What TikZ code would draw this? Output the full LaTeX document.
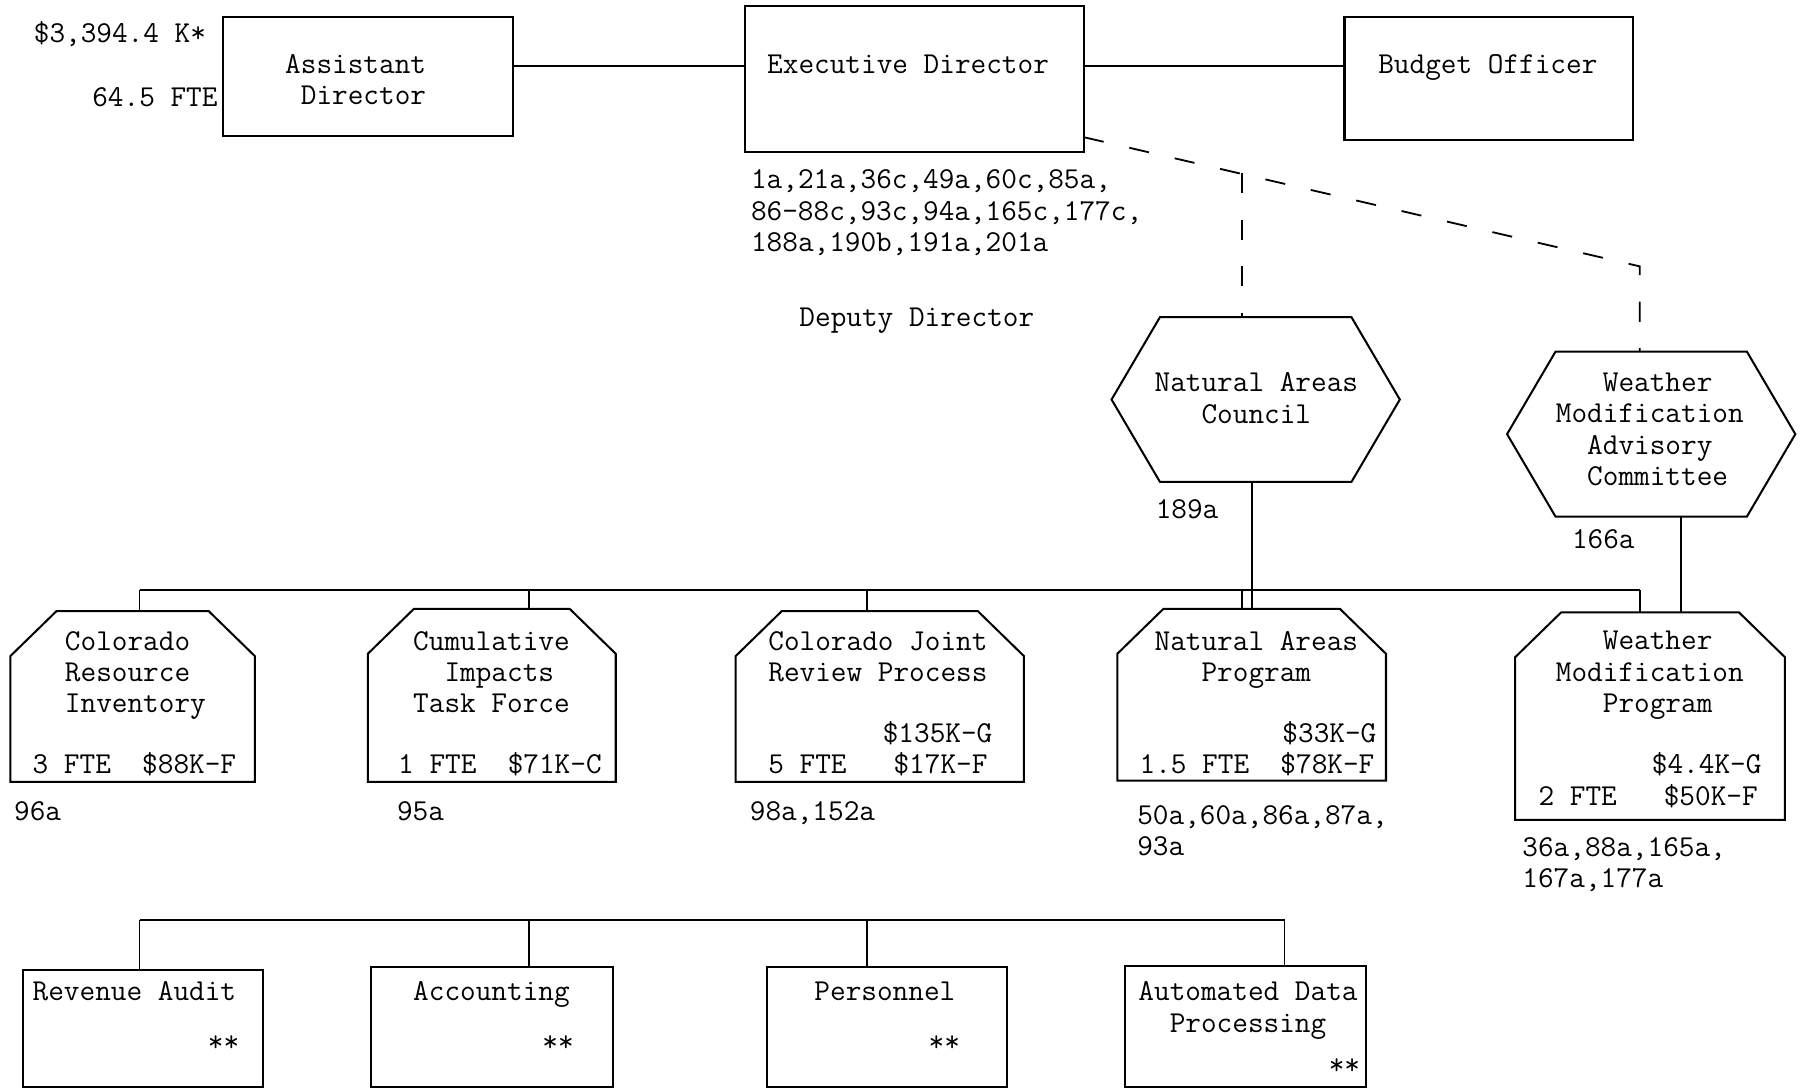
\documentclass[tikz,border=0pt]{standalone}
\usetikzlibrary{fit}

\begin{document}
\begin{tikzpicture}[x=0.02cm, y=-0.02cm,
    font=\fontsize{15}{15.5}\selectfont\ttfamily,
    box/.style={draw, line width=1pt, inner sep=0pt, outer sep=0pt},
    frame/.style={inner sep=0pt, outer sep=0pt},
    outl/.style={line width=1pt},
    txt/.style={inner sep=0pt, align=left, anchor=north west},
    lbl/.style={inner sep=0pt, anchor=base west},
    conn/.style={line width=0.9pt},
    dline/.style={line width=0.9pt, dash pattern=on 10pt off 13pt}]
  \useasboundingbox (0,0) rectangle (1568,945);

  % top row
  \node[box, fit={(193,15) (445,118)}] (ad) {};
  \node[box, fit={(646,5) (940,132)}] (ed) {};
  \node[box, fit={(1166,15) (1416,121)}] (bo) {};
  \node[lbl, anchor=base east] (adbudget) at (179,37) {\$3,394.4 K*};
  \node[lbl, anchor=base east] (adfte) at (189,92) {64.5 FTE};
  \node[txt] (adtxt) at (247,47) {Assistant\\\hphantom{x}Director};
  \node[txt] (edtxt) at (665,47) {Executive Director};
  \node[txt] (botxt) at (1195,47) {Budget Officer};
  \node[txt] (edrefs) at (651,147) {1a,21a,36c,49a,60c,85a,\\86-88c,93c,94a,165c,177c,\\188a,190b,191a,201a};
  \node[lbl] (deputy) at (693,283) {Deputy Director};

  % councils
  \node[frame, fit={(964,275) (1214,418)}] (nac) {};
  \node[frame, fit={(1307,305) (1557,448)}] (wmac) {};
  \node[txt] (nactxt) at (1001,323) {Natural Areas\\\hphantom{xxx}Council};
  \node[txt] (wmactxt) at (1349,323) {\hphantom{xxx}Weather\\Modification\\\hphantom{xx}Advisory\\\hphantom{xx}Committee};
  \node[lbl] (nacref) at (1002,450) {189a};
  \node[lbl] (wmacref) at (1363,476) {166a};

  % programs
  \node[frame, fit={(9,530) (221,678)}] (cri) {};
  \node[frame, fit={(319,528) (534,678)}] (cit) {};
  \node[frame, fit={(638,530) (888,678)}] (cjrp) {};
  \node[frame, fit={(969,528) (1202,677)}] (nap) {};
  \node[frame, fit={(1314,531) (1548,711)}] (wmp) {};
  \node[txt] (critxt) at (56,547) {Colorado\\Resource\\Inventory};
  \node[lbl] (crifig) at (28,671) {3 FTE\ \ \$88K-F};
  \node[lbl] (criref) at (12,712) {96a};
  \node[txt] (cittxt) at (358,547) {Cumulative\\\hphantom{xx}Impacts\\Task Force};
  \node[lbl] (citfig) at (345,671) {1 FTE\ \ \$71K-C};
  \node[lbl] (citref) at (344,712) {95a};
  \node[txt] (cjrptxt) at (666,547) {Colorado Joint\\Review Process};
  \node[lbl, anchor=base east] (cjrpgen) at (861,644) {\$135K-G};
  \node[lbl] (cjrpfig) at (666,671) {5 FTE\ \ \ \$17K-F};
  \node[lbl] (cjrpref) at (650,712) {98a,152a};
  \node[txt] (naptxt) at (1001,547) {Natural Areas\\\hphantom{xxx}Program};
  \node[lbl, anchor=base east] (napgen) at (1194,644) {\$33K-G};
  \node[lbl] (napfig) at (988,671) {1.5 FTE\ \ \$78K-F};
  \node[txt] (napref) at (986,698) {50a,60a,86a,87a,\\93a};
  \node[txt] (wmptxt) at (1349,547) {\hphantom{xxx}Weather\\Modification\\\hphantom{xxx}Program};
  \node[lbl, anchor=base east] (wmpgen) at (1528,671) {\$4.4K-G};
  \node[lbl] (wmpfig) at (1334,699) {2 FTE\ \ \ \$50K-F};
  \node[txt] (wmpref) at (1320,726) {36a,88a,165a,\\167a,177a};

  % staff units
  \node[box, fit={(20,841) (228,943)}] (ra) {};
  \node[box, fit={(322,839) (532,943)}] (acc) {};
  \node[box, fit={(665,839) (873,943)}] (per) {};
  \node[box, fit={(976,838) (1185,943)}] (adp) {};
  \node[txt] (ratxt) at (28,851) {Revenue Audit};
  \node[lbl] (rastar) at (180,912) {**};
  \node[txt] (acctxt) at (358,851) {Accounting};
  \node[lbl] (accstar) at (470,912) {**};
  \node[txt] (pertxt) at (706,851) {Personnel};
  \node[lbl] (perstar) at (805,912) {**};
  \node[txt] (adptxt) at (987,851) {Automated Data\\\hphantom{xx}Processing};
  \node[lbl] (adpstar) at (1152,932) {**};

  % outlines
  \foreach \n in {cri,cit,cjrp,nap,wmp}
    \draw[outl] (\n.south west) -- ([yshift=-0.78cm]\n.north west) -- ([xshift=0.8cm]\n.north west)
      -- ([xshift=-0.8cm]\n.north east) -- ([yshift=-0.78cm]\n.north east) -- (\n.south east) -- cycle;
  \foreach \n in {nac,wmac}
    \draw[outl] (\n.west) -- ([xshift=0.84cm]\n.north west) -- ([xshift=-0.84cm]\n.north east)
      -- (\n.east) -- ([xshift=-0.84cm]\n.south east) -- ([xshift=0.84cm]\n.south west) -- cycle;

  % connectors
  \coordinate (topline) at (0,57);
  \draw[conn] (ad.east |- topline) -- (ed.west |- topline);
  \draw[conn] (ed.east |- topline) -- (bo.west |- topline);

  \coordinate (dstart) at (ed.east |- 0,119);
  \coordinate (nacjoin) at (1077,150);
  \coordinate (advjoin) at (1422,231);
  \draw[dline] (dstart) -- (advjoin) -- (advjoin |- wmac.north);
  \draw[dline] (nacjoin) -- (nacjoin |- nac.north);

  \draw[conn] (nap.north |- nac.south) -- (nap.north);
  \draw[conn] (1458,0 |- wmac.south) -- (1458,0 |- wmp.north);

  \coordinate (progbus) at (0,512);
  \draw[conn] (121,0 |- progbus) -- (1422,0 |- progbus);
  \foreach \x/\n in {121/cri,459/cit,752/cjrp,1077/nap,1422/wmp}
    \draw[conn] (\x,0 |- progbus) -- (\x,0 |- \n.north);

  \coordinate (staffbus) at (0,798);
  \draw[conn] (121,0 |- staffbus) -- (1114,0 |- staffbus);
  \foreach \x/\n in {121/ra,459/acc,752/per,1114/adp}
    \draw[conn] (\x,0 |- staffbus) -- (\x,0 |- \n.north);
\end{tikzpicture}
\end{document}
